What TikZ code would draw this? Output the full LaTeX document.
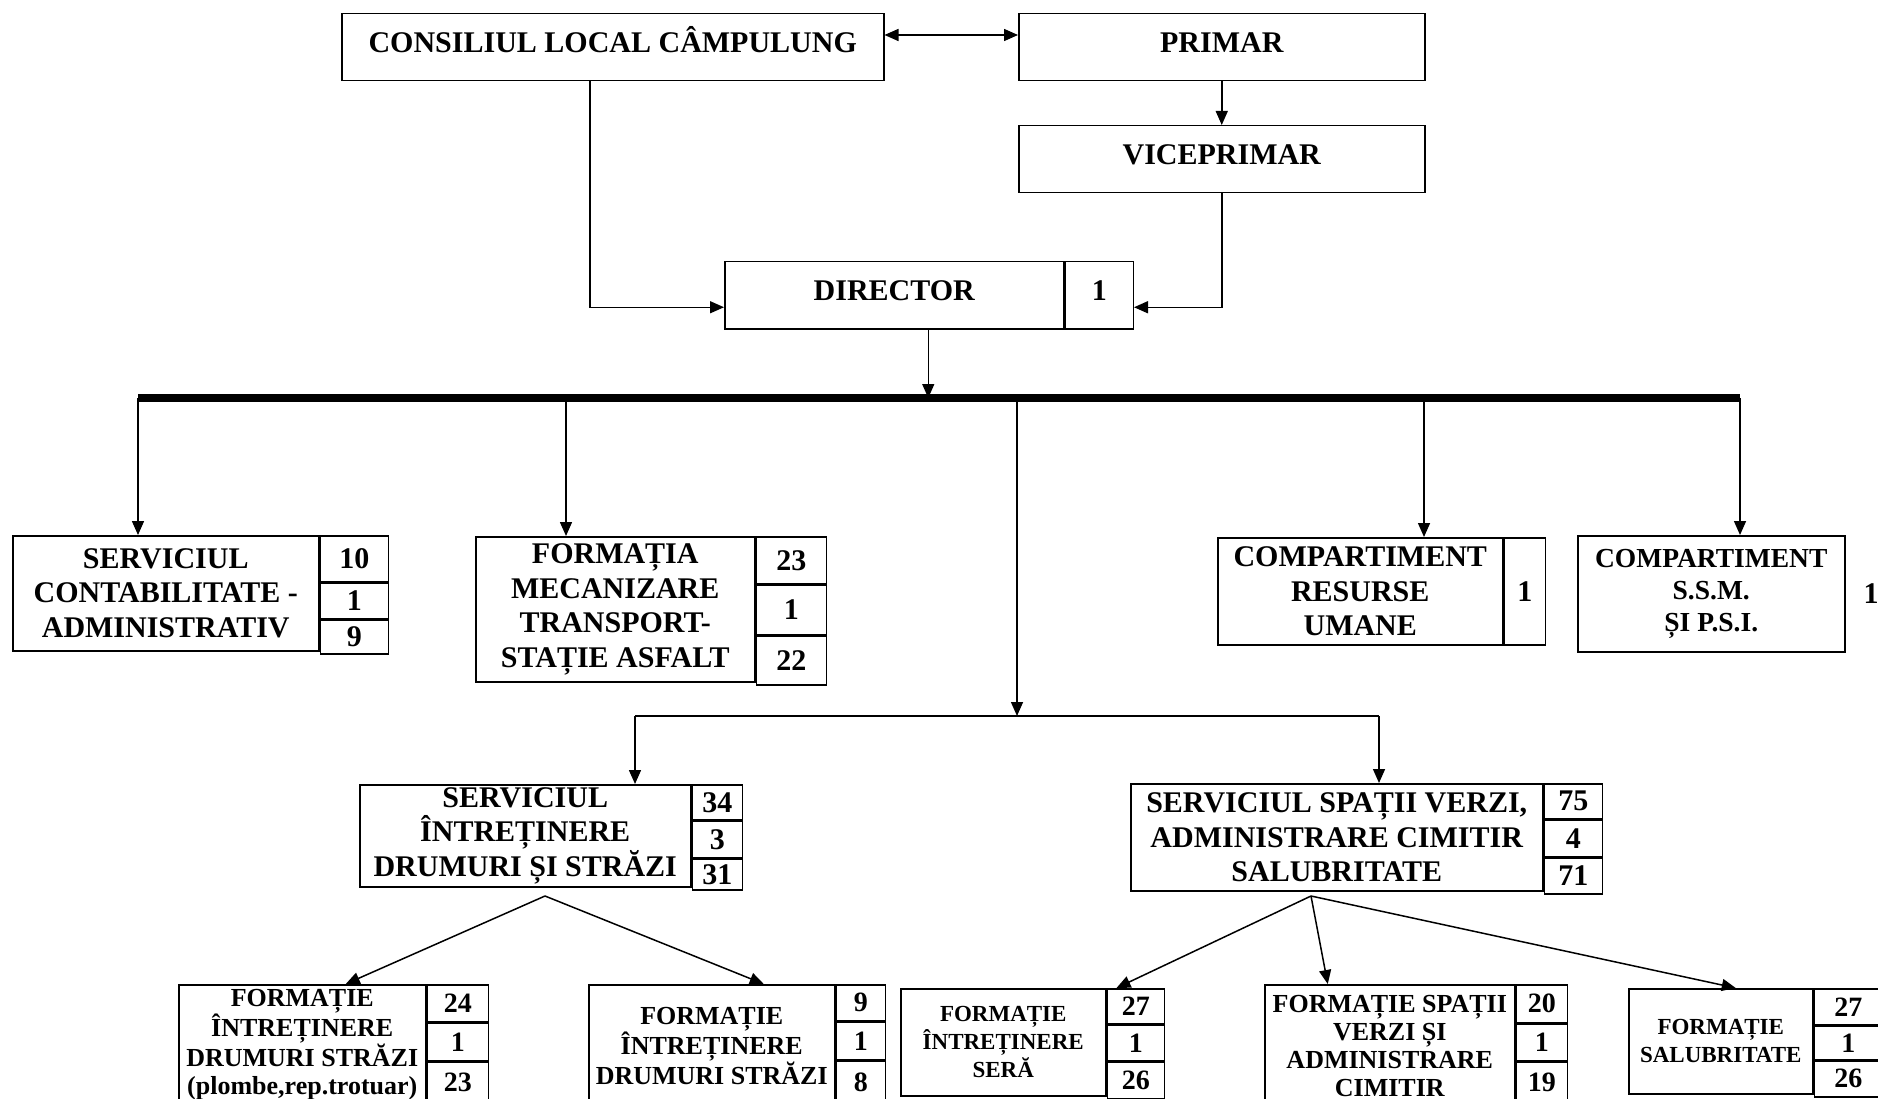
\documentclass[tikz,border=0pt]{standalone}
\usepackage{fontspec}
\setmainfont{Liberation Serif}
\usepackage{tikz}
\usetikzlibrary{positioning,arrows.meta}

\newcommand{\fbig}{\fontsize{30}{34.5}\selectfont\bfseries}
\newcommand{\fssm}{\fontsize{27.5}{32}\selectfont\bfseries}
\newcommand{\fsmall}{\fontsize{26}{28}\selectfont\bfseries}
\newcommand{\ftiny}{\fontsize{23}{28}\selectfont\bfseries}
\newcommand{\fnum}{\fontsize{28}{30}\selectfont\bfseries}

\tikzset{
  box/.style={draw, line width=1.5pt, inner sep=0pt, align=center, anchor=north west},
  raised/.style={text height=20pt, text depth=10pt},
  lift/.style={text height=20pt, text depth=12pt},
  arr/.style={line width=1.5pt, -{Triangle[length=14pt,width=12pt]}},
  arrboth/.style={line width=1.5pt, {Triangle[length=14pt,width=12pt]}-{Triangle[length=14pt,width=12pt]}},
  bus/.style={line width=8pt}
}

\begin{document}
\begin{tikzpicture}[x=1pt,y=-1pt]
\useasboundingbox (0,0) rectangle (1878,1099);
\clip (0,0) rectangle (1878,1099);

% Conducere
\node[box, raised, font=\fbig, minimum width=542pt, minimum height=67pt] (consiliul) at (341,13) {CONSILIUL LOCAL CÂMPULUNG};
\node[box, raised, font=\fbig, minimum width=406pt, minimum height=67pt] (primar) at (1018,13) {PRIMAR};
\node[box, raised, font=\fbig, minimum width=406pt, minimum height=67pt] (viceprimar) at (1018,125) {VICEPRIMAR};
\node[box, raised, font=\fbig, minimum width=339pt, minimum height=67pt] (director) at (724,261) {DIRECTOR};
\node[box, raised, font=\fbig, minimum width=68pt, minimum height=67pt] (directorN) at (director.north east) {1};

% Bara de distributie
\coordinate (barL) at (138,398);
\coordinate (barR) at (1740,398);
\coordinate (dropF) at (566,398);
\coordinate (dropR) at (1424,398);
\coordinate (split) at (1017,716);
\coordinate (splitL) at (635,716);
\coordinate (splitR) at (1379,716);
\coordinate (fanA) at (545,896);
\coordinate (fanB) at (1311,896);

% Servicii si compartimente
\node[box, font=\fbig, minimum width=306pt, minimum height=115pt] (contab) at (12,535) {SERVICIUL\\CONTABILITATE -\\ADMINISTRATIV};
\node[box, font=\fbig, minimum width=68pt, minimum height=46pt] (contabA) at (contab.north east) {10};
\node[box, font=\fbig, minimum width=68pt, minimum height=35pt, below=0pt of contabA] (contabB) {1};
\node[box, font=\fbig, minimum width=68pt, minimum height=34pt, below=0pt of contabB] (contabC) {9};

\node[box, font=\fbig, minimum width=279pt, minimum height=145pt] (formatia) at (475,536) {FORMAȚIA\\MECANIZARE\\TRANSPORT-\\STAȚIE ASFALT};
\node[box, font=\fbig, minimum width=70pt, minimum height=47pt] (formatiaA) at (formatia.north east) {23};
\node[box, font=\fbig, minimum width=70pt, minimum height=49pt, below=0pt of formatiaA] (formatiaB) {1};
\node[box, font=\fbig, minimum width=70pt, minimum height=49pt, below=0pt of formatiaB] (formatiaC) {22};

\node[box, font=\fbig, minimum width=285pt, minimum height=107pt] (resurse) at (1217,537) {COMPARTIMENT\\RESURSE\\UMANE};
\node[box, font=\fbig, minimum width=41pt, minimum height=107pt] (resurseN) at (resurse.north east) {1};

\node[box, font=\fssm, minimum width=267pt, minimum height=116pt] (ssm) at (1577,535) {COMPARTIMENT\\S.S.M.\\ȘI P.S.I.};
\node[font=\fbig, inner sep=0pt, anchor=west] (ssmN) at ([xshift=18pt]ssm.east) {1};

\node[box, font=\fbig, minimum width=331pt, minimum height=102pt] (sids) at (359,784) {SERVICIUL\\ÎNTREȚINERE\\DRUMURI ȘI STRĂZI};
\node[box, font=\fbig, minimum width=50pt, minimum height=35pt] (sidsA) at (sids.north east) {34};
\node[box, font=\fbig, minimum width=50pt, minimum height=36pt, below=0pt of sidsA] (sidsB) {3};
\node[box, font=\fbig, minimum width=50pt, minimum height=31pt, below=0pt of sidsB] (sidsC) {31};

\node[box, font=\fbig, minimum width=412pt, minimum height=107pt] (sverzi) at (1130,783) {SERVICIUL SPAȚII VERZI,\\ADMINISTRARE CIMITIR\\SALUBRITATE};
\node[box, font=\fbig, minimum width=58pt, minimum height=35pt] (sverziA) at (sverzi.north east) {75};
\node[box, font=\fbig, minimum width=58pt, minimum height=36pt, below=0pt of sverziA] (sverziB) {4};
\node[box, font=\fbig, minimum width=58pt, minimum height=36pt, below=0pt of sverziB] (sverziC) {71};

% Formatii
\node[box, font=\fsmall, minimum width=247pt, minimum height=120pt] (b1) at (178,984) {FORMAȚIE\\ÎNTREȚINERE\\DRUMURI STRĂZI\\(plombe,rep.trotuar)};
\node[box, font=\fnum, minimum width=61pt, minimum height=37pt] (b1A) at (b1.north east) {24};
\node[box, font=\fnum, minimum width=61pt, minimum height=37pt, below=0pt of b1A] (b1B) {1};
\node[box, lift, font=\fnum, minimum width=61pt, minimum height=52pt, below=0pt of b1B] (b1C) {23};

\node[box, font=\fsmall, minimum width=246pt, minimum height=122pt] (b2) at (588,984) {FORMAȚIE\\ÎNTREȚINERE\\DRUMURI STRĂZI};
\node[box, font=\fnum, minimum width=49pt, minimum height=36pt] (b2A) at (b2.north east) {9};
\node[box, font=\fnum, minimum width=49pt, minimum height=37pt, below=0pt of b2A] (b2B) {1};
\node[box, lift, font=\fnum, minimum width=49pt, minimum height=53pt, below=0pt of b2B] (b2C) {8};

\node[box, font=\ftiny, minimum width=205pt, minimum height=107pt] (b3) at (900,988) {FORMAȚIE\\ÎNTREȚINERE\\SERĂ};
\node[box, font=\fnum, minimum width=57pt, minimum height=35pt] (b3A) at (b3.north east) {27};
\node[box, font=\fnum, minimum width=57pt, minimum height=35pt, below=0pt of b3A] (b3B) {1};
\node[box, font=\fnum, minimum width=57pt, minimum height=37pt, below=0pt of b3B] (b3C) {26};

\node[box, font=\fsmall, minimum width=250pt, minimum height=122pt] (b4) at (1264,984) {FORMAȚIE SPAȚII\\VERZI ȘI\\ADMINISTRARE\\CIMITIR};
\node[box, font=\fnum, minimum width=51pt, minimum height=38pt] (b4A) at (b4.north east) {20};
\node[box, font=\fnum, minimum width=51pt, minimum height=36pt, below=0pt of b4A] (b4B) {1};
\node[box, lift, font=\fnum, minimum width=51pt, minimum height=52pt, below=0pt of b4B] (b4C) {19};

\node[box, font=\ftiny, minimum width=184pt, minimum height=105pt] (b5) at (1628,988) {FORMAȚIE\\SALUBRITATE};
\node[box, font=\fnum, minimum width=68pt, minimum height=36pt] (b5A) at (b5.north east) {27};
\node[box, font=\fnum, minimum width=68pt, minimum height=33pt, below=0pt of b5A] (b5B) {1};
\node[box, font=\fnum, minimum width=68pt, minimum height=36pt, below=0pt of b5B] (b5C) {26};

% Legaturi
\draw[arrboth] ([yshift=-22pt]consiliul.north east) -- ([yshift=-22pt]primar.north west);
\draw[arr] (primar) -- (viceprimar);
\draw[arr] ([xshift=-23pt]consiliul.south) |- ([yshift=-12pt]director.west);
\draw[arr] (viceprimar.south) |- ([yshift=-12pt]directorN.east);
\draw[arr] ([xshift=34pt]director.south) -- ([xshift=34pt]director.south |- barL);

\draw[bus] (barL) -- (barR);
\draw[arr] (barL) -- (barL |- contab.north);
\draw[arr] (dropF) -- (dropF |- formatia.north);
\draw[arr] (dropR) -- (dropR |- resurse.north);
\draw[arr] (barR) -- (barR |- ssm.north);
\draw[arr] (split |- barL) -- (split);
\draw[line width=1.5pt] (splitL) -- (splitR);
\draw[arr] (splitL) -- (splitL |- sids.north);
\draw[arr] (splitR) -- (splitR |- sverzi.north);

\draw[arr] (fanA) -- ([xshift=43.5pt]b1.north);
\draw[arr] (fanA) -- ([xshift=52pt]b2.north);
\draw[arr] (fanB) -- ([xshift=10pt]b3.north east);
\draw[arr] (fanB) -- ([xshift=-62pt]b4.north);
\draw[arr] (fanB) -- ([xshift=15pt]b5.north);
\end{tikzpicture}
\end{document}
